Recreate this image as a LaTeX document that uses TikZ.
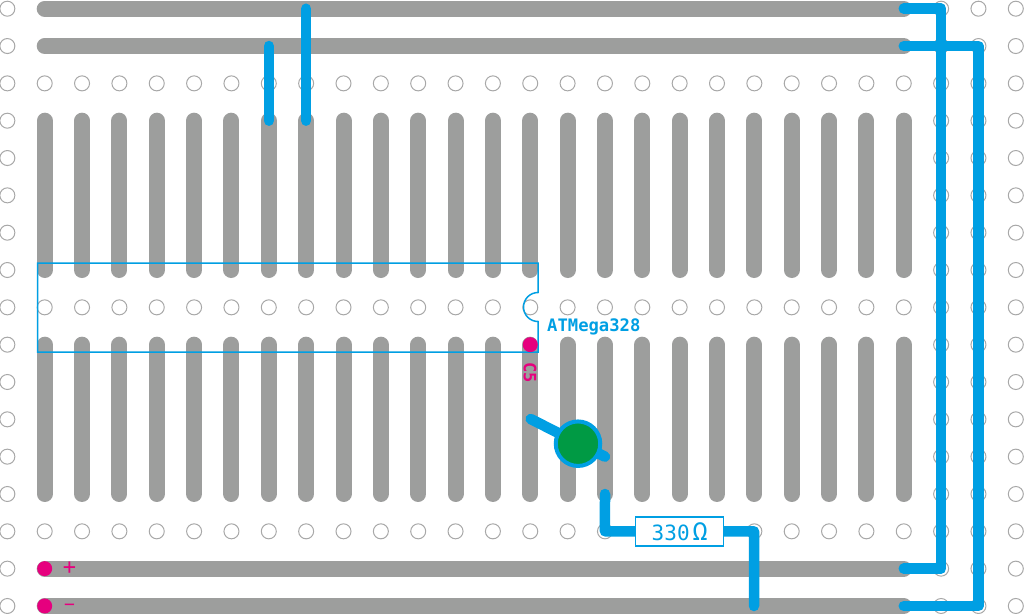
\documentclass[tikz,border=0pt]{standalone}
\usepackage{fontspec}
\setmainfont{DejaVu Sans Mono}
\definecolor{wire}{HTML}{009FE3}
\definecolor{strip}{HTML}{9D9E9D}
\definecolor{pin}{HTML}{E6007E}
\definecolor{ledgreen}{HTML}{009A44}
\definecolor{holeline}{HTML}{A8A8A8}
\tikzset{
  hole/.style={circle,draw=holeline,line width=1pt,fill=white,inner sep=0pt,minimum size=15pt},
  railstrip/.style={draw=strip,line width=16pt,line cap=round},
  wirepath/.style={draw=wire,line width=10.5pt,line cap=round,line join=round},
  pindot/.style={circle,fill=pin,inner sep=0pt,minimum size=15pt},
  chipline/.style={draw=wire,line width=1.5pt},
  bluelabel/.style={text=wire,inner sep=0pt},
  pinlabel/.style={text=pin,inner sep=0pt}
}
\begin{document}
\begin{tikzpicture}[x=1pt,y=-1pt]
\useasboundingbox (0,0) rectangle (1024,615);
\fill[white] (0,0) rectangle (1024,615);
% grid coordinates
\foreach \c in {0,...,27}{\foreach \r in {0,...,16}{
  \coordinate (g\c-\r) at ({7.35+37.35*\c},{8.7+37.33*\r});
}}
% holes: outer columns
\foreach \c in {0,25,26,27}{\foreach \r in {0,...,16}{
  \node[hole] (h\c-\r) at (g\c-\r) {};
}}
% holes: inner rows
\foreach \c in {1,...,24}{\foreach \r in {2,8,14}{
  \node[hole] (h\c-\r) at (g\c-\r) {};
}}
% power rails
\foreach \r in {0,1,15,16}{
  \draw[railstrip] (g1-\r) -- (g24-\r);
}
% terminal strips
\foreach \c in {1,...,24}{
  \draw[railstrip] (g\c-3) -- (g\c-7);
  \draw[railstrip] (g\c-9) -- (g\c-13);
}
% chip outline
\coordinate (chipTL) at (37.5,263);
\coordinate (chipTR) at (538,263);
\coordinate (chipBR) at (538,352);
\coordinate (chipBL) at (37.5,352);
\coordinate (notchT) at (538,292.5);
\draw[chipline] (chipTL) -- (chipTR) -- (notchT) arc[start angle=270,end angle=90,radius=14.5] -- (chipBR) -- (chipBL) -- cycle;
\node[bluelabel,anchor=west] (chiplabel) at (547,326.5) {\fontsize{17.2}{17}\selectfont\bfseries ATMega328};
% pin markers
\node[pindot] (c5) at (g14-9) {};
\node[pinlabel,rotate=-90] (c5label) at (530,372.5) {\fontsize{17}{17}\selectfont\bfseries C5};
\node[pindot] (plusdot) at (g1-15) {};
\node[pindot] (minusdot) at (g1-16) {};
\node[pinlabel] (pluslabel) at (69.5,568.5) {\fontsize{22}{22}\selectfont +};
\node[pinlabel] (minuslabel) at (69.5,607) {\fontsize{18}{18}\selectfont −};
% jumpers
\draw[wirepath] (g7-1) -- (g7-3);
\draw[wirepath] (g8-0) -- (g8-3);
\draw[wirepath] (g24-0) -- (g25-0) -- (g25-15) -- (g24-15);
\draw[wirepath] (g24-1) -- (g26-1) -- (g26-16) -- (g24-16);
% LED
\coordinate (ledA) at (530.7,419);
\coordinate (ledK) at (605,456.7);
\draw[wirepath] (ledA) -- (ledK);
\node[circle,draw=wire,fill=ledgreen,line width=4pt,inner sep=0pt,minimum size=44.5pt] (led) at (578,443.7) {};
% resistor
\coordinate (rcorner) at (g16-14);
\coordinate (rright) at (754,531.3);
\coordinate (rbottom) at (754,606);
\draw[wirepath] (605,494) -- (rcorner) -- (rright) -- (rbottom);
\node[draw=wire,fill=white,line width=1.5pt,minimum width=88pt,minimum height=29pt,inner sep=0pt,text=wire] (res) at (679.7,531.3) {\fontsize{21}{21}\selectfont 330\kern3pt{\fontsize{25}{25}\selectfont Ω}};
\end{tikzpicture}
\end{document}
